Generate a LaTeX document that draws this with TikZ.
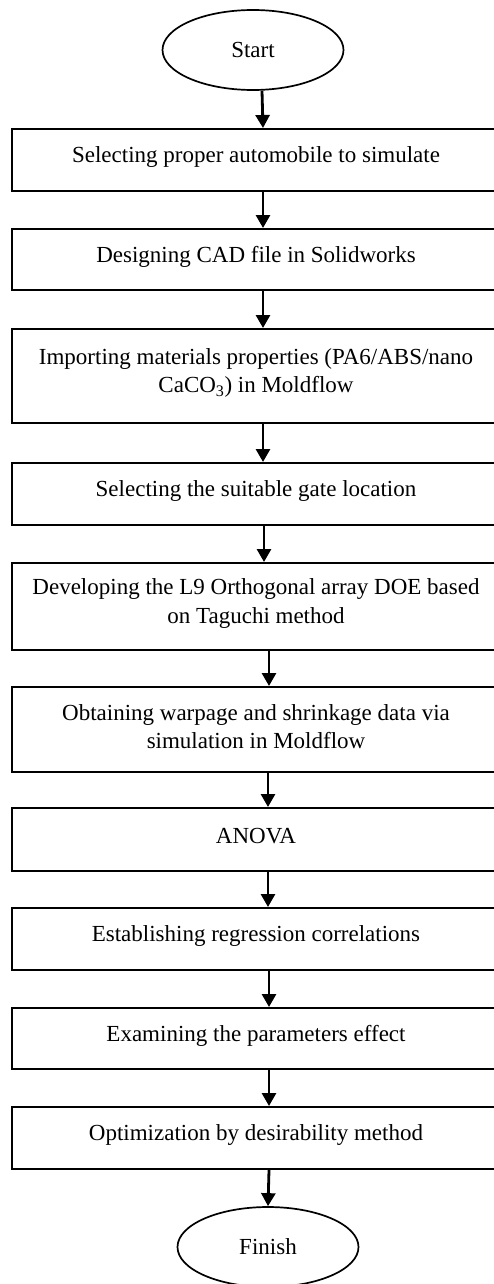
\documentclass[tikz,border=0pt]{standalone}
\usepackage{fontspec}
\setmainfont{Liberation Serif}
\usetikzlibrary{arrows.meta,shapes.geometric}
\begin{document}
\begin{tikzpicture}[x=1pt,y=-1pt,
  every node/.style={font=\fontsize{23}{28.5}\selectfont},
  stepbox/.style={draw,line width=2pt,rectangle,minimum width=500pt,inner sep=0pt,anchor=west},
  steptext/.style={align=center,inner sep=0pt},
  term/.style={draw,line width=1.7pt,ellipse,minimum width=181pt,minimum height=80pt,inner sep=0pt},
  flow/.style={line width=2.8pt,-{Triangle[width=14pt,length=13pt]}}]
\useasboundingbox (0,0) rectangle (494,1284);
\clip (0,0) rectangle (494,1284);
\node[term] (start) at (253,50) {Start};
\node[stepbox,minimum height=62pt] (b1) at (11,160) {};
\node[stepbox,minimum height=61pt] (b2) at (10.5,259.5) {};
\node[stepbox,minimum height=94pt] (b3) at (11,376) {};
\node[stepbox,minimum height=62pt] (b4) at (11,494) {};
\node[stepbox,minimum height=87pt] (b5) at (10.5,606.5) {};
\node[stepbox,minimum height=85pt] (b6) at (11,729.5) {};
\node[stepbox,minimum height=63pt] (b7) at (11,839.5) {};
\node[stepbox,minimum height=62pt] (b8) at (11,939) {};
\node[stepbox,minimum height=61pt] (b9) at (10.5,1038.5) {};
\node[stepbox,minimum height=62pt] (b10) at (11,1138) {};
\node[term] (finish) at (268,1247) {Finish};
\node[steptext] (t1) at ([xshift=-6pt,yshift=3pt]b1.center) {Selecting proper automobile to simulate};
\node[steptext] (t2) at ([xshift=-5.5pt,yshift=3pt]b2.center) {Designing CAD file in Solidworks};
\node[steptext] (t3) at ([xshift=-6pt,yshift=3pt]b3.center) {Importing materials properties (PA6/ABS/nano\\CaCO\textsubscript{3}) in Moldflow};
\node[steptext] (t4) at ([xshift=-6pt,yshift=3pt]b4.center) {Selecting the suitable gate location};
\node[steptext] (t5) at ([xshift=-5.5pt,yshift=3pt]b5.center) {Developing the L9 Orthogonal array DOE based\\on Taguchi method};
\node[steptext] (t6) at ([xshift=-6pt,yshift=3pt]b6.center) {Obtaining warpage and shrinkage data via\\simulation in Moldflow};
\node[steptext] (t7) at ([xshift=-6pt,yshift=3pt]b7.center) {ANOVA};
\node[steptext] (t8) at ([xshift=-6pt,yshift=3pt]b8.center) {Establishing regression correlations};
\node[steptext] (t9) at ([xshift=-5.5pt,yshift=3pt]b9.center) {Examining the parameters effect};
\node[steptext] (t10) at ([xshift=-6pt,yshift=3pt]b10.center) {Optimization by desirability method};
\draw[flow] ([xshift=9pt]start.south) -- ([xshift=1pt]b1.north);
\draw[flow] ([xshift=1pt]b1.south) -- ([xshift=1.5pt]b2.north);
\draw[flow] ([xshift=1.5pt]b2.south) -- ([xshift=1pt]b3.north);
\draw[flow] ([xshift=1pt]b3.south) -- ([xshift=1pt]b4.north);
\draw[flow] ([xshift=2pt]b4.south) -- ([xshift=2.5pt]b5.north);
\draw[flow] ([xshift=7.5pt]b5.south) -- ([xshift=7pt]b6.north);
\draw[flow] ([xshift=6pt]b6.south) -- ([xshift=6pt]b7.north);
\draw[flow] ([xshift=6pt]b7.south) -- ([xshift=6pt]b8.north);
\draw[flow] ([xshift=7pt]b8.south) -- ([xshift=7.5pt]b9.north);
\draw[flow] ([xshift=7.5pt]b9.south) -- ([xshift=7pt]b10.north);
\draw[flow] ([xshift=7pt]b10.south) -- (finish.north);
\end{tikzpicture}
\end{document}
